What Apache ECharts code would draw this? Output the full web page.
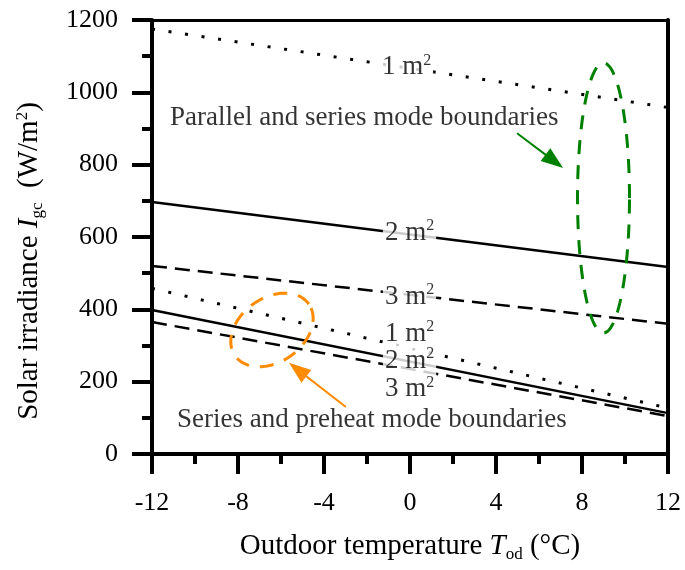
<!DOCTYPE html>
<html><head><meta charset="utf-8">
<script src="https://cdn.jsdelivr.net/npm/echarts@6/dist/echarts.min.js"></script>
<style>html,body{margin:0;padding:0;background:#fff}#c{width:685px;height:570px}</style>
</head><body><div id="c"></div><script>
// ---- data ----
const temps = [-12, 12];
const upper1m = [1175, 958];
const upper2m = [697, 517];
const upper3m = [520, 360];
const lower1m = [458, 127];
const lower2m = [398, 113];
const lower3m = [365, 105];
const areaLabels = ['1', '2', '3', '1', '2', '3'];
const areaLabelX = [-1.40, -1.26, -1.26, -1.26, -1.26, -1.26];
const areaLabelY = [1070, 612, 435, 333, 258, 180];
const annoTexts = ['Parallel and series mode boundaries', 'Series and preheat mode boundaries'];
const annoX = [-11.16, -10.84];
const annoY = [929, 94];
const greenEllipseCenter = [9.0, 708];
const greenArrow = [[4.98, 887], [7.12, 791]];
const orangeEllipseCenter = [-6.42, 343];
const orangeArrow = [[-2.98, 130], [-5.63, 252]];

const FONT = "'Liberation Serif','Times New Roman',serif";
const DOT = [3, 13.7], DASH = [15, 8];

function lineSeries(name, vals, dash) {
  return {
    name, type: 'line', symbol: 'none', silent: true, z: 3,
    data: temps.map((t, i) => [t, vals[i]]),
    lineStyle: { color: '#000', width: dash === DOT ? 3 : 2.5, type: dash || 'solid' }
  };
}

const chart = echarts.init(document.getElementById('c'), null, { renderer: 'canvas' });
const option = {
  animation: false,
  backgroundColor: '#fff',
  textStyle: { fontFamily: FONT },
  grid: { left: 152, right: 17, top: 20, bottom: 116, containLabel: false },
  xAxis: [{
    type: 'value', min: -12, max: 12, interval: 4,
    name: 'Outdoor temperature {i|T}{sub|od} (°C)', nameLocation: 'middle', nameGap: 76,
    nameTextStyle: { fontFamily: FONT, fontSize: 29, color: '#000',
      rich: { i: { fontFamily: FONT, fontSize: 29, fontStyle: 'italic', color: '#000' },
              sub: { fontFamily: FONT, fontSize: 17, color: '#000', padding: [16, 0, 0, 0] } } },
    axisLine: { onZero: false, lineStyle: { color: '#000', width: 4 } },
    axisTick: { show: true, inside: false, length: 20, lineStyle: { color: '#000', width: 4 } },
    minorTick: { show: true, splitNumber: 2, length: 10, lineStyle: { color: '#000', width: 4 } },
    axisLabel: { margin: 36, fontFamily: FONT, fontSize: 26, color: '#000', formatter: v => String(v) },
    splitLine: { show: false }
  }, {
    type: 'value', min: -12, max: 12, position: 'top',
    axisLine: { show: true, onZero: false, lineStyle: { color: '#000', width: 3 } },
    axisTick: { show: false }, axisLabel: { show: false }, splitLine: { show: false }
  }],
  yAxis: [{
    type: 'value', min: 0, max: 1200, interval: 200,
    name: 'Solar irradiance {i|I}{sub|gc}  (W/m{sup|2})', nameLocation: 'middle', nameGap: 106,
    nameTextStyle: { fontFamily: FONT, fontSize: 29, color: '#000', padding: [0, 48, 0, 0],
      rich: { i: { fontFamily: FONT, fontSize: 29, fontStyle: 'italic', color: '#000' },
              sub: { fontFamily: FONT, fontSize: 17, color: '#000', padding: [16, 0, 0, 0] },
              sup: { fontFamily: FONT, fontSize: 17, color: '#000', padding: [0, 0, 14, 0] } } },
    axisLine: { onZero: false, lineStyle: { color: '#000', width: 4 } },
    axisTick: { show: true, inside: false, length: 20, lineStyle: { color: '#000', width: 4 } },
    minorTick: { show: true, splitNumber: 2, length: 10, lineStyle: { color: '#000', width: 4 } },
    axisLabel: { margin: 34, fontFamily: FONT, fontSize: 26, color: '#000', formatter: v => String(v) },
    splitLine: { show: false }
  }, {
    type: 'value', min: 0, max: 1200, position: 'right',
    axisLine: { show: true, onZero: false, lineStyle: { color: '#000', width: 4 } },
    axisTick: { show: false }, axisLabel: { show: false }, splitLine: { show: false }
  }],
  series: [
    lineSeries('upper1', upper1m, DOT),
    lineSeries('upper2', upper2m, null),
    lineSeries('upper3', upper3m, DASH),
    lineSeries('lower1', lower1m, DOT),
    lineSeries('lower2', lower2m, null),
    lineSeries('lower3', lower3m, DASH),
    {
      type: 'scatter', symbolSize: 0, silent: true, z: 5,
      data: areaLabels.map((t, i) => [areaLabelX[i], areaLabelY[i], t]),
      label: {
        show: true, position: 'inside', align: 'left', verticalAlign: 'middle',
        formatter: p => '{a|' + p.data[2] + ' m}{s|2}',
        backgroundColor: '#fff', padding: [0, 2, 0, 2],
        rich: {
          a: { fontFamily: FONT, fontSize: 27, color: '#000' },
          s: { fontFamily: FONT, fontSize: 16, color: '#000', padding: [0, 0, 13, 0] }
        }
      }
    },
    {
      type: 'scatter', symbolSize: 0, silent: true, z: 5,
      data: annoTexts.map((t, i) => [annoX[i], annoY[i], t]),
      label: {
        show: true, position: 'inside', align: 'left', verticalAlign: 'middle',
        formatter: p => p.data[2],
        fontFamily: FONT, fontSize: 27, color: '#000'
      }
    }
  ]
};
chart.setOption(option);

function px(p) { return chart.convertToPixel({ xAxisIndex: 0, yAxisIndex: 0 }, p); }
function ellipsePts(center, a, b, deg) {
  const [cx, cy] = px(center), th = deg * Math.PI / 180, pts = [];
  for (let k = 0; k < 120; k++) {
    const t = k / 120 * 2 * Math.PI;
    const ex = a * Math.cos(t), ey = b * Math.sin(t);
    pts.push([cx + ex * Math.cos(th) - ey * Math.sin(th), cy - (ex * Math.sin(th) + ey * Math.cos(th))]);
  }
  return pts;
}
function arrow(seg, color) {
  const [x1, y1] = px(seg[0]), [x2, y2] = px(seg[1]);
  const dx = x2 - x1, dy = y2 - y1, L = Math.hypot(dx, dy), ux = dx / L, uy = dy / L;
  const hl = 22, hw = 8, bx = x2 - ux * hl, by = y2 - uy * hl;
  return [
    { type: 'line', silent: true, z: 10, shape: { x1, y1, x2: bx + ux * 2, y2: by + uy * 2 }, style: { stroke: color, lineWidth: 2 } },
    { type: 'polygon', silent: true, z: 10, shape: { points: [[x2, y2], [bx - uy * hw, by + ux * hw], [bx + uy * hw, by - ux * hw]] }, style: { fill: color } }
  ];
}
const GREEN = '#008000', ORANGE = '#ff8c00';
chart.setOption({
  graphic: [
    { type: 'polygon', silent: true, z: 10, shape: { points: ellipsePts(greenEllipseCenter, 26, 135, 0) },
      style: { fill: 'none', stroke: GREEN, lineWidth: 3, lineDash: [14, 11] } },
    { type: 'polygon', silent: true, z: 10, shape: { points: ellipsePts(orangeEllipseCenter, 45, 32, 35) },
      style: { fill: 'none', stroke: ORANGE, lineWidth: 3, lineDash: [14, 11] } },
    ...arrow(greenArrow, GREEN),
    ...arrow(orangeArrow, ORANGE)
  ]
});
</script></body></html>
